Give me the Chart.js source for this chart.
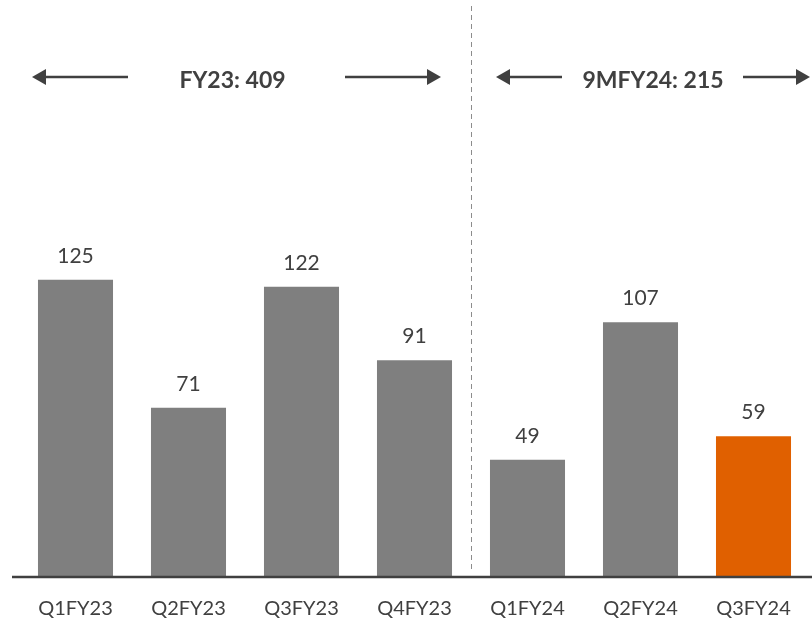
<!DOCTYPE html>
<html>
<head>
<meta charset="utf-8">
<script src="https://cdn.jsdelivr.net/npm/chart.js@4.4.1/dist/chart.umd.min.js"></script>
<style>
  body { margin: 0; background: #fff; }
  #wrap { width: 812px; height: 622px; }
</style>
</head>
<body>
<div id="wrap"><canvas id="c" width="812" height="622"></canvas></div>
<script>
// quarterly values
let quarters = ['Q1FY23', 'Q2FY23', 'Q3FY23', 'Q4FY23', 'Q1FY24', 'Q2FY24', 'Q3FY24'];
let values = [125, 71, 122, 91, 49, 107, 59];
let barColors = ['#7f7f7f', '#7f7f7f', '#7f7f7f', '#7f7f7f', '#7f7f7f', '#7f7f7f', '#e06000'];
let groupLabels = ['FY23: 409', '9MFY24: 215'];
let dividerAfter = 3; // dashed line after Q4FY23

let textColor = '#404040';
let fontFamily = "Lato, 'Open Sans', sans-serif";

function drawArrow(ctx, x1, x2, y) {
  // arrow pointing from x1 to x2
  let dir = x2 > x1 ? 1 : -1;
  let head = 14;
  ctx.beginPath();
  ctx.moveTo(x1, y);
  ctx.lineTo(x2 - dir * head, y);
  ctx.stroke();
  ctx.beginPath();
  ctx.moveTo(x2, y);
  ctx.lineTo(x2 - dir * head, y - 8);
  ctx.lineTo(x2 - dir * head, y + 8);
  ctx.closePath();
  ctx.fill();
}

let extras = {
  id: 'extras',
  afterDatasetsDraw(chart) {
    let ctx = chart.ctx;
    let x = chart.scales.x, y = chart.scales.y;
    let meta = chart.getDatasetMeta(0);
    let step = x.getPixelForValue(1) - x.getPixelForValue(0);
    let base = y.getPixelForValue(0);

    // value labels
    ctx.save();
    ctx.fillStyle = textColor;
    ctx.font = '21px ' + fontFamily;
    ctx.textAlign = 'center';
    ctx.textBaseline = 'alphabetic';
    meta.data.forEach((bar, i) => {
      ctx.fillText(values[i], bar.x, bar.y - 17);
    });
    ctx.restore();

    // dashed divider
    let divX = (x.getPixelForValue(dividerAfter) + x.getPixelForValue(dividerAfter + 1)) / 2;
    ctx.save();
    ctx.strokeStyle = '#8c8c8c';
    ctx.lineWidth = 1;
    ctx.setLineDash([5, 4]);
    ctx.beginPath();
    ctx.moveTo(divX + 0.5, 6);
    ctx.lineTo(divX + 0.5, base - 6);
    ctx.stroke();
    ctx.restore();

    // baseline
    ctx.save();
    ctx.strokeStyle = '#404040';
    ctx.lineWidth = 2.5;
    ctx.beginPath();
    ctx.moveTo(12, base + 1);
    ctx.lineTo(chart.width, base + 1);
    ctx.stroke();
    ctx.restore();

    // group arrows and totals
    let ay = 77;
    ctx.save();
    ctx.strokeStyle = '#404040';
    ctx.fillStyle = '#404040';
    ctx.lineWidth = 2.5;
    let l1 = x.getPixelForValue(0) - step / 2 + 13;
    let r1 = divX - 30;
    drawArrow(ctx, l1 + 96, l1, ay);
    drawArrow(ctx, r1 - 96, r1, ay);
    let l2 = divX + 25;
    let r2 = chart.width - 2;
    drawArrow(ctx, l2 + 66, l2, ay);
    drawArrow(ctx, r2 - 67, r2, ay);
    ctx.font = 'bold 23px ' + fontFamily;
    ctx.textAlign = 'center';
    ctx.textBaseline = 'alphabetic';
    ctx.fillStyle = textColor;
    ctx.fillText(groupLabels[0], (l1 + r1) / 2 - 4, 88);
    ctx.fillText(groupLabels[1], (l2 + r2) / 2, 88);
    ctx.restore();
  }
};

new Chart(document.getElementById('c'), {
  type: 'bar',
  data: {
    labels: quarters,
    datasets: [{
      data: values,
      backgroundColor: barColors,
      borderWidth: 0,
      categoryPercentage: 1,
      barPercentage: 0.664
    }]
  },
  options: {
    responsive: false,
    animation: false,
    layout: { padding: { left: 19, right: 2, top: 0, bottom: 0 } },
    plugins: { legend: { display: false }, tooltip: { enabled: false } },
    scales: {
      x: {
        grid: { display: false, drawTicks: false },
        border: { display: false },
        ticks: { color: textColor, font: { size: 20, family: fontFamily }, padding: 21, maxRotation: 0 },
        afterFit(scale) { scale.height = 46; }
      },
      y: {
        display: false,
        min: 0,
        max: 243
      }
    }
  },
  plugins: [extras]
});
</script>
</body>
</html>
